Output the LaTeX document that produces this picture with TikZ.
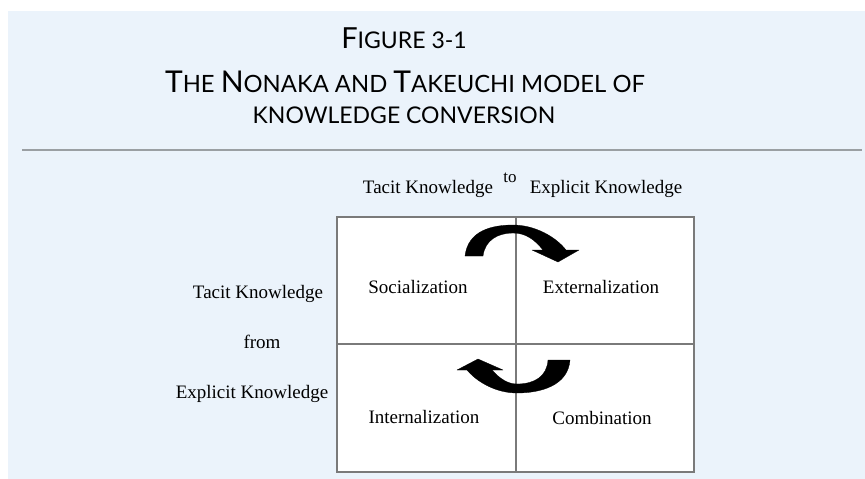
\documentclass[tikz,border=0pt]{standalone}
\usepackage{fontspec}
\setmainfont{Liberation Serif}
\newfontfamily\titlefont{Lato}
\definecolor{bgblue}{HTML}{EBF3FB}
\definecolor{rulegray}{HTML}{9A9FA3}
\definecolor{gridgray}{HTML}{7A7A7A}
\newcommand\capL{\fontsize{29}{29}\selectfont}
\newcommand\capS{\fontsize{23}{23}\selectfont}
\newcommand\capLb{\fontsize{30}{30}\selectfont}
\newcommand\capSb{\fontsize{23.8}{23.8}\selectfont}
\tikzset{
  title/.style={anchor=base, inner sep=0pt, font=\titlefont},
  label/.style={anchor=base, inner sep=0pt, font=\fontsize{19}{19}\selectfont},
  cell/.style={draw=gridgray, line width=1.2pt, fill=white},
  bigarrow/.style={fill=black, draw=black, line width=0.3pt, line join=round}
}
\begin{document}
\begin{tikzpicture}[x=1pt,y=-1pt]
\useasboundingbox (0,0) rectangle (865,479);
\fill[white] (0,0) rectangle (865,479);
\fill[bgblue] (8,11) rectangle (865,479);
% title
\node[title] (t1) at (404,48) {\capL F\capS IGURE 3-1};
\node[title] (t2) at (405,92) {\capLb T\capSb HE \capLb N\capSb ONAKA AND \capLb T\capSb AKEUCHI MODEL OF};
\node[title] (t3) at (404,123) {\capS KNOWLEDGE CONVERSION};
\coordinate (rl) at (22,150);
\coordinate (rr) at (862,150);
\draw[rulegray, line width=2pt] (rl) -- (rr);
% grid
\coordinate (g0) at (337,217);
\coordinate (g1) at (694,472);
\coordinate (gm) at (516,344);
\draw[cell] (g0) rectangle (g1);
\draw[gridgray, line width=1.2pt] (gm |- g0) -- (gm |- g1);
\draw[gridgray, line width=1.2pt] (g0 |- gm) -- (g1 |- gm);
% labels
\node[label] (tk) at (428,193) {Tacit Knowledge};
\node[label, font=\fontsize{17}{17}\selectfont] (to) at (510,182) {to};
\node[label] (ek) at (606,193) {Explicit Knowledge};
\node[label] (soc) at (418,293) {Socialization};
\node[label] (ext) at (601,293) {Externalization};
\node[label] (int) at (424,423) {Internalization};
\node[label] (com) at (602,424) {Combination};
\node[label] (ltk) at (258,298) {Tacit Knowledge};
\node[label] (lfr) at (262,348) {from};
\node[label] (lek) at (252,398) {Explicit Knowledge};
% arrows
\fill[bigarrow] (465,256) .. controls (468,230) and (493,225) .. (513,225)
  .. controls (535,225) and (556,237) .. (566,250) -- (579,250) -- (558,262) -- (532,250) -- (543,250)
  .. controls (535,240) and (526,233) .. (513,233)
  .. controls (498,233) and (485,240) .. (483,256) -- cycle;
\fill[bigarrow] (570,360) .. controls (568,386) and (540,393) .. (517,393)
  .. controls (496,393) and (477,382) .. (467,370) -- (457,370) -- (478,359) -- (503,370) -- (492,370)
  .. controls (500,379) and (508,384) .. (517,384)
  .. controls (535,384) and (547,376) .. (548,360) -- cycle;
\end{tikzpicture}
\end{document}
